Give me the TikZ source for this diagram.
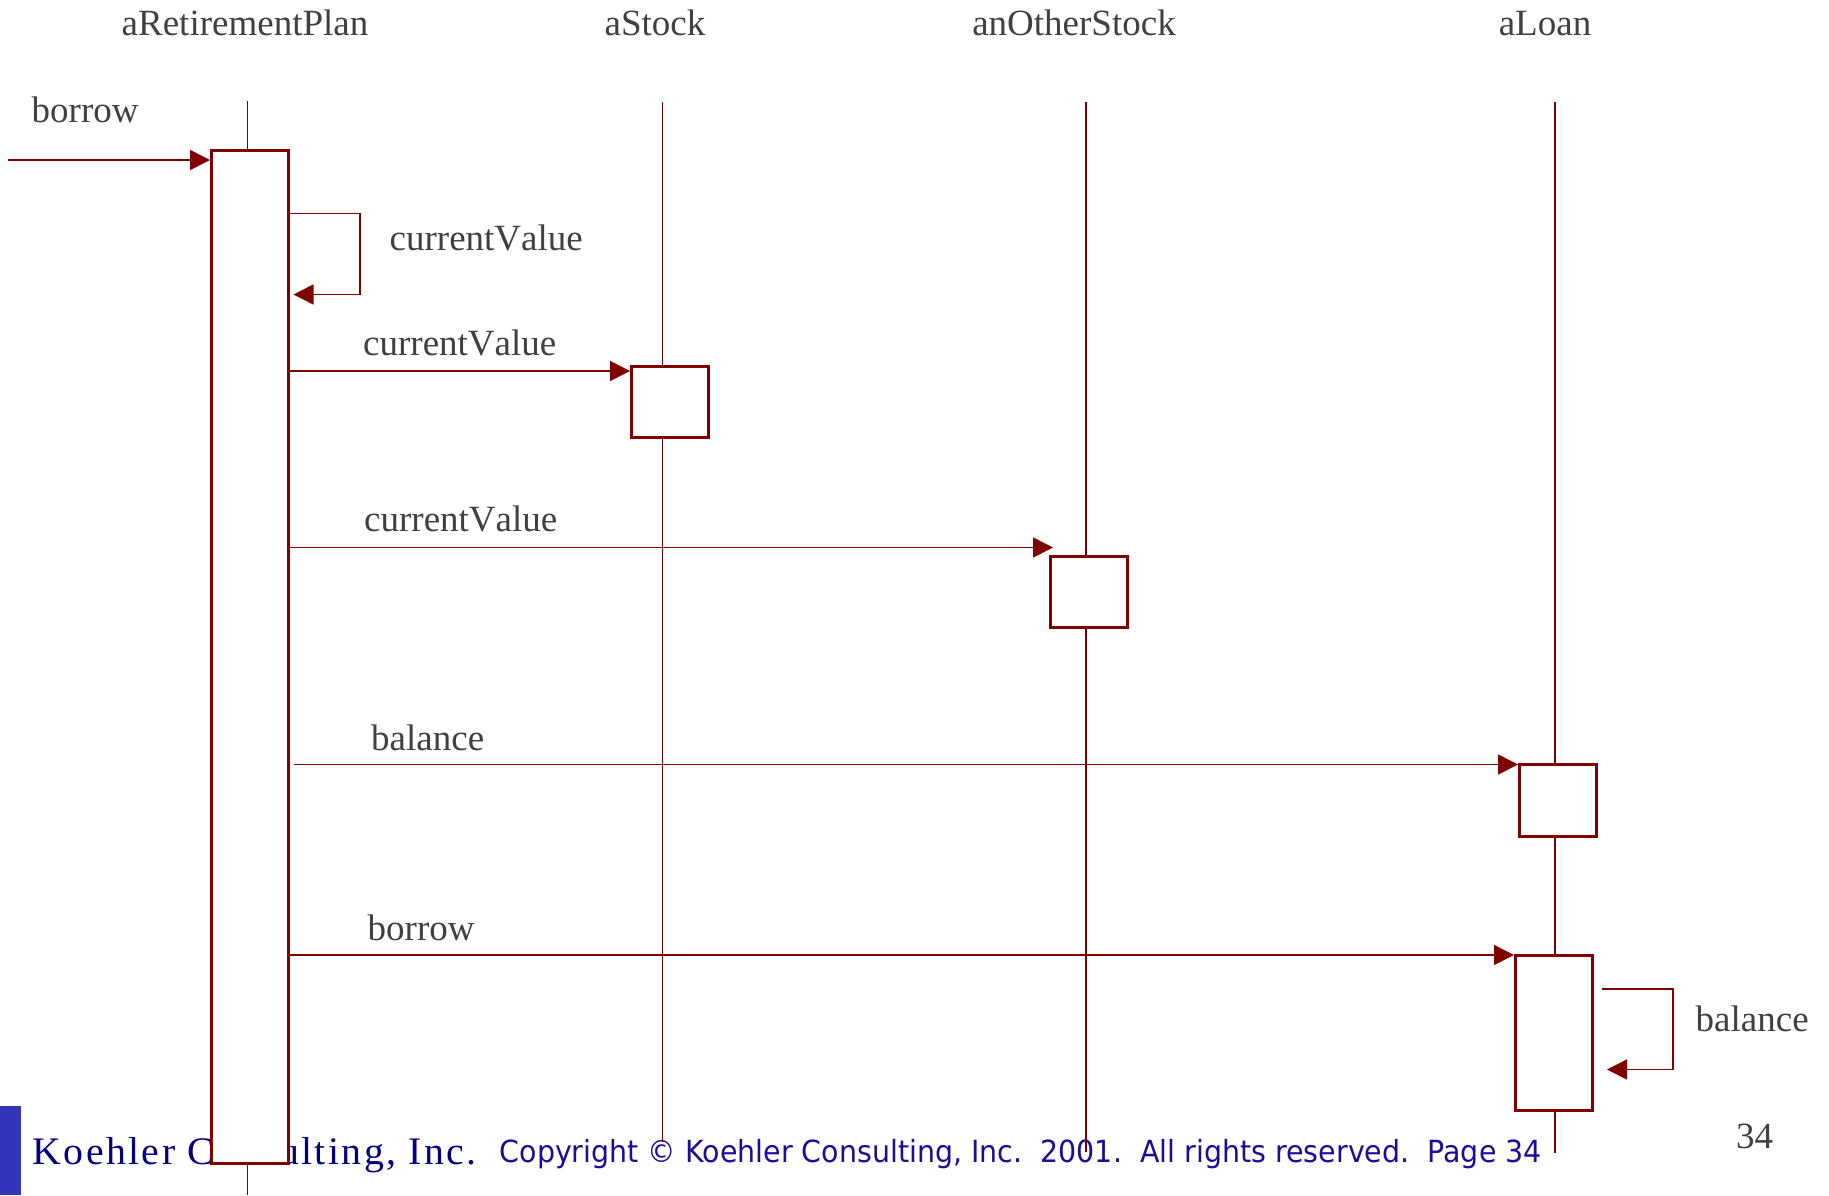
\documentclass[tikz,border=0pt]{standalone}
\usepackage{fontspec}
\usepackage{graphicx}
\setmainfont[Kerning=Off]{Liberation Serif}
\newfontfamily\footserif[LetterSpace=6]{Liberation Serif}
\newfontfamily\footsans{DejaVu Sans}
\usetikzlibrary{arrows.meta}
\definecolor{seqred}{RGB}{128,0,0}
\definecolor{labelgray}{RGB}{64,64,64}
\definecolor{footnavy}{RGB}{0,0,128}
\definecolor{footindigo}{RGB}{28,12,150}
\definecolor{footbar}{RGB}{51,51,187}

\begin{document}
\begin{tikzpicture}[x=1pt,y=-1pt,
  lifeline/.style={draw=seqred, line width=1.5pt},
  actbox/.style={rectangle, draw=seqred, line width=3pt, fill=white,
                 inner sep=0pt, outer sep=0pt},
  msg/.style={draw=seqred, line width=1.6pt, -{Triangle[length=20pt,width=20pt]}},
  msglabel/.style={text=labelgray, font=\fontsize{37}{44}\selectfont,
                   inner sep=0pt, anchor=base west},
  objname/.style={text=labelgray, font=\fontsize{37}{44}\selectfont,
                  inner sep=0pt, anchor=base},
]
\useasboundingbox (0,0) rectangle (1829,1195);

% footer
\fill[footbar] (0,1106) rectangle (21,1195);
\node[inner sep=0pt, anchor=base west, text=footnavy] (firm) at (32.5,1164)
  {\resizebox{444pt}{\height}{\footserif\fontsize{39}{46}\selectfont Koehler Consulting, Inc.}};
\node[inner sep=0pt, anchor=base west, text=footindigo] (copy) at (499.5,1162)
  {\resizebox{1042pt}{\height}{\footsans\fontsize{30.5}{36}\selectfont Copyright \textcopyright{} Koehler Consulting, Inc.\ \ 2001.\ \ All rights reserved.\ \ Page 34}};
\node[inner sep=0pt, anchor=base west, text=labelgray,
      font=\fontsize{37}{44}\selectfont] (pageno) at (1736,1148) {34};

% object names
\node[objname] (plan)  at (245,35)  {aRetirementPlan};
\node[objname] (stock) at (655,35)  {aStock};
\node[objname] (other) at (1074,35) {anOtherStock};
\node[objname] (loan)  at (1545,35) {aLoan};

% lifelines
\coordinate (planTop)  at (247.5,101);
\coordinate (planBot)  at (247.5,1195);
\coordinate (stockTop) at (662.5,102);
\coordinate (stockBot) at (662.5,1142);
\coordinate (otherTop) at (1086,102);
\coordinate (otherBot) at (1086,1152);
\coordinate (loanTop)  at (1555,102);
\coordinate (loanBot)  at (1555,1153);
\draw[lifeline] (planTop) -- (planBot);
\draw[lifeline] (stockTop) -- (stockBot);
\draw[lifeline] (otherTop) -- (otherBot);
\draw[lifeline] (loanTop) -- (loanBot);

% activation boxes
\node[actbox, minimum width=77pt, minimum height=1012.5pt] (planAct)  at (249.5,656.75) {};
\node[actbox, minimum width=77pt, minimum height=71.5pt]   (stockAct) at (669.5,401.75) {};
\node[actbox, minimum width=76.5pt, minimum height=71.7pt] (otherAct) at (1088.75,591.85) {};
\node[actbox, minimum width=77pt, minimum height=72pt]     (loanActA) at (1557.5,800) {};
\node[actbox, minimum width=77pt, minimum height=155pt]    (loanActB) at (1553.5,1032.5) {};

% message end points
\coordinate (inStart)  at (8,160);
\coordinate (inEnd)    at (210,160);
\coordinate (selfA1)   at (289,213.5);
\coordinate (selfA2)   at (360,213.5);
\coordinate (selfA3)   at (360,294.5);
\coordinate (selfA4)   at (293.5,294.5);
\coordinate (toStockS) at (289,371);
\coordinate (toStockE) at (630,371);
\coordinate (toOtherS) at (289,547.5);
\coordinate (toOtherE) at (1053,547.5);
\coordinate (toLoanAS) at (293.5,764.5);
\coordinate (toLoanAE) at (1518,764.5);
\coordinate (toLoanBS) at (290,955);
\coordinate (toLoanBE) at (1514,955);
\coordinate (selfB1)   at (1601.5,989);
\coordinate (selfB2)   at (1673,989);
\coordinate (selfB3)   at (1673,1069.5);
\coordinate (selfB4)   at (1607,1069.5);

% messages
\draw[msg] (inStart) -- (inEnd);
\draw[msg] (selfA1) -- (selfA2) -- (selfA3) -- (selfA4);
\draw[msg] (toStockS) -- (toStockE);
\draw[msg] (toOtherS) -- (toOtherE);
\draw[msg] (toLoanAS) -- (toLoanAE);
\draw[msg] (toLoanBS) -- (toLoanBE);
\draw[msg] (selfB1) -- (selfB2) -- (selfB3) -- (selfB4);

% message labels
\node[msglabel] (lblBorrowIn) at (31.5,122)  {borrow};
\node[msglabel] (lblSelfA)    at (389.5,250) {currentValue};
\node[msglabel] (lblStock)    at (363,355)   {currentValue};
\node[msglabel] (lblOther)    at (364,531)   {currentValue};
\node[msglabel] (lblLoanA)    at (371,750)   {balance};
\node[msglabel] (lblLoanB)    at (367.5,940) {borrow};
\node[msglabel] (lblSelfB)    at (1695.5,1031) {balance};
\end{tikzpicture}
\end{document}
